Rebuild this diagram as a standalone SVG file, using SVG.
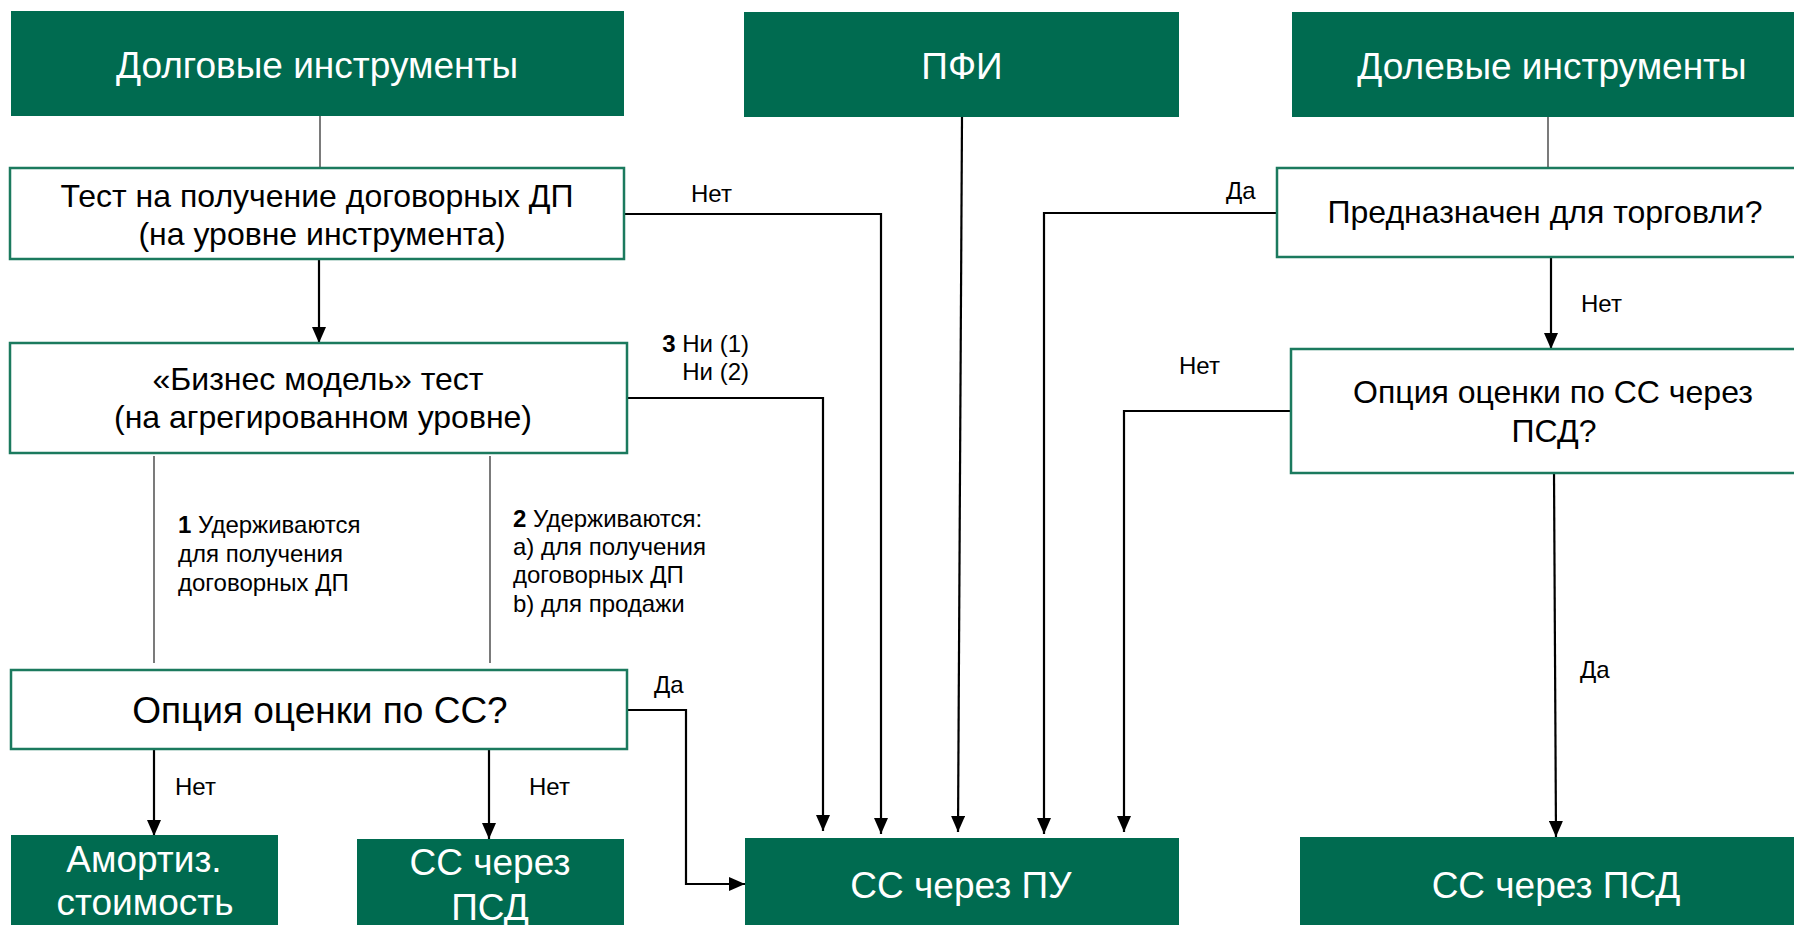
<svg xmlns="http://www.w3.org/2000/svg" width="1794" height="925" viewBox="0 0 1794 925">
<defs>
<style>
.solid{fill:#006B50;}
.q{fill:#ffffff;stroke:#1B7A5E;stroke-width:2.5;}
.wt{fill:#ffffff;font-family:"Liberation Sans",Arial,sans-serif;font-size:37px;text-anchor:middle;}
.bt{fill:#000000;font-family:"Liberation Sans",Arial,sans-serif;font-size:32px;text-anchor:middle;}
.bt37{fill:#000000;font-family:"Liberation Sans",Arial,sans-serif;font-size:37px;text-anchor:middle;}
.lb{fill:#000000;font-family:"Liberation Sans",Arial,sans-serif;font-size:24px;}
.thin{fill:none;stroke:#222222;stroke-width:1.2;}
.arr{fill:none;stroke:#000000;stroke-width:2.2;marker-end:url(#ah);}
</style>
<marker id="ah" markerUnits="userSpaceOnUse" viewBox="0 0 16 14" refX="16" refY="7" markerWidth="16" markerHeight="14" orient="auto">
<path d="M0,0 L16,7 L0,14 z" fill="#000000"/>
</marker>
</defs>
<rect width="1794" height="925" fill="#ffffff"/>

<g id="connectors">
<line class="thin" x1="320" y1="116" x2="320" y2="168"/>
<line class="arr" x1="319" y1="259" x2="319" y2="343"/>
<path class="arr" d="M624,214 H881 V834"/>
<path class="arr" d="M627,398 H823 V831"/>
<line class="thin" x1="154" y1="456" x2="154" y2="663"/>
<line class="thin" x1="490" y1="456" x2="490" y2="663"/>
<line class="arr" x1="154" y1="749" x2="154" y2="836"/>
<line class="arr" x1="489" y1="749" x2="489" y2="839"/>
<path class="arr" d="M627,710 H686 V884 H745"/>
<line class="arr" x1="962" y1="117" x2="958" y2="832"/>
<line class="thin" x1="1548" y1="117" x2="1548" y2="168"/>
<path class="arr" d="M1277,213 H1044 V834"/>
<line class="arr" x1="1551" y1="257" x2="1551" y2="349"/>
<path class="arr" d="M1291,411 H1124 V832"/>
<line class="arr" x1="1554" y1="473" x2="1556" y2="837"/>
<text class="lb" x="691" y="202">Нет</text>
<text class="lb" x="1226" y="199">Да</text>
<text class="lb" x="1581" y="312">Нет</text>
<text class="lb" x="749" y="352" text-anchor="end"><tspan font-weight="bold">3</tspan> Ни (1)</text>
<text class="lb" x="749" y="380" text-anchor="end">Ни (2)</text>
<text class="lb" x="1179" y="374">Нет</text>
<text class="lb" x="178" y="533"><tspan font-weight="bold">1</tspan> Удерживаются</text>
<text class="lb" x="178" y="562">для получения</text>
<text class="lb" x="178" y="591">договорных ДП</text>
<text class="lb" x="513" y="527"><tspan font-weight="bold">2</tspan> Удерживаются:</text>
<text class="lb" x="513" y="555">a) для получения</text>
<text class="lb" x="513" y="583">договорных ДП</text>
<text class="lb" x="513" y="612">b) для продажи</text>
<text class="lb" x="654" y="693">Да</text>
<text class="lb" x="175" y="795">Нет</text>
<text class="lb" x="529" y="795">Нет</text>
<text class="lb" x="1580" y="678">Да</text>
</g>

<g id="dolgovye">
<rect class="solid" x="11" y="11" width="613" height="105"/>
<text class="wt" x="317" y="78">Долговые инструменты</text>
</g>
<g id="pfi">
<rect class="solid" x="744" y="12" width="435" height="105"/>
<text class="wt" x="962" y="79">ПФИ</text>
</g>
<g id="dolevye">
<rect class="solid" x="1292" y="12" width="510" height="105"/>
<text class="wt" x="1552" y="79">Долевые инструменты</text>
</g>
<g id="test">
<rect class="q" x="10" y="168" width="614" height="91"/>
<text class="bt" x="317" y="207">Тест на получение договорных ДП</text>
<text class="bt" x="322" y="245">(на уровне инструмента)</text>
</g>
<g id="biz">
<rect class="q" x="10" y="343" width="617" height="110"/>
<text class="bt" x="318" y="390">«Бизнес модель» тест</text>
<text class="bt" x="323" y="428">(на агрегированном уровне)</text>
</g>
<g id="predn">
<rect class="q" x="1277" y="168" width="530" height="89"/>
<text class="bt" x="1545" y="223">Предназначен для торговли?</text>
</g>
<g id="opc-psd">
<rect class="q" x="1291" y="349" width="515" height="124"/>
<text class="bt" x="1553" y="403">Опция оценки по СС через</text>
<text class="bt" x="1554" y="442">ПСД?</text>
</g>
<g id="opc-ss">
<rect class="q" x="11" y="670" width="616" height="79"/>
<text class="bt37" x="320" y="723">Опция оценки по СС?</text>
</g>
<g id="amort">
<rect class="solid" x="11" y="835" width="267" height="95"/>
<text class="wt" x="144" y="872">Амортиз.</text>
<text class="wt" x="145" y="915">стоимость</text>
</g>
<g id="ss-psd-left">
<rect class="solid" x="357" y="839" width="267" height="90"/>
<text class="wt" x="490" y="875">СС через</text>
<text class="wt" x="490" y="920">ПСД</text>
</g>
<g id="ss-pu">
<rect class="solid" x="745" y="838" width="434" height="90"/>
<text class="wt" x="961" y="898">СС через ПУ</text>
</g>
<g id="ss-psd-right">
<rect class="solid" x="1300" y="837" width="500" height="90"/>
<text class="wt" x="1556" y="898">СС через ПСД</text>
</g>
</svg>
